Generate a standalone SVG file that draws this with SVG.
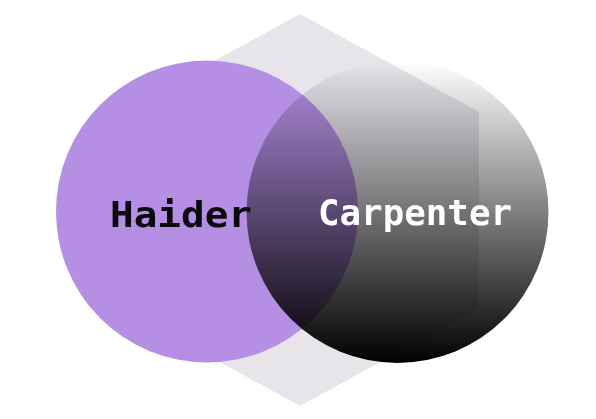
<svg xmlns="http://www.w3.org/2000/svg" width="596" height="419" viewBox="0 0 596 419">
  <defs>
    <linearGradient id="gradCarpenter" x1="0" y1="0" x2="0" y2="1">
      <stop offset="0" stop-color="#ffffff"/>
      <stop offset="1" stop-color="#000000"/>
    </linearGradient>
    <style>
      .label { font-family: "DejaVu Sans Mono", "Liberation Mono", monospace; font-weight: bold; font-size: 35px; }
      .hex { fill: #E7E5EA; }
      .haider { fill: #B48FE3; }
      .carpenter { fill: url(#gradCarpenter); mix-blend-mode: multiply; }
    </style>
  </defs>
  <rect width="596" height="419" fill="#ffffff"/>
  <g id="hexagon">
    <polygon class="hex" points="300,14 479,112 479,308 300,406 121,308 121,112"/>
  </g>
  <g id="node-haider">
    <circle class="haider" cx="207" cy="211.5" r="151"/>
  </g>
  <g id="node-carpenter">
    <circle class="carpenter" cx="397.5" cy="212" r="151"/>
  </g>
  <g id="connectors"/>
  <g id="labels">
    <text class="label" x="110" y="227" fill="#0a0a0f" textLength="142" lengthAdjust="spacingAndGlyphs">Haider</text>
    <text class="label" x="318" y="225" fill="#ffffff" textLength="194" lengthAdjust="spacingAndGlyphs">Carpenter</text>
  </g>
</svg>
